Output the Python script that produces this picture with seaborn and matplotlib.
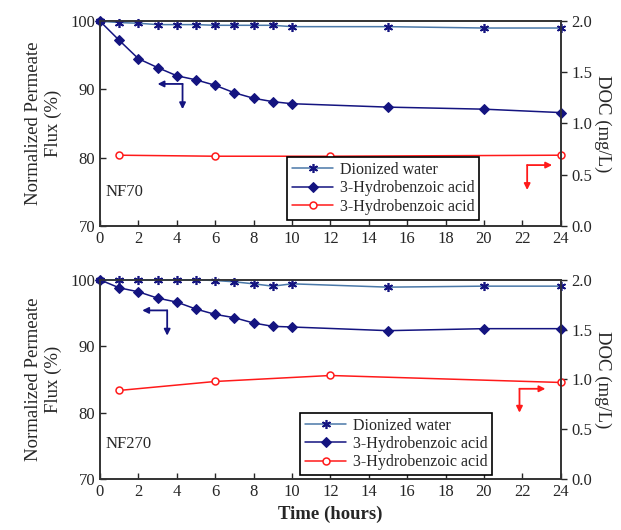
import matplotlib
matplotlib.use("Agg")
import matplotlib.pyplot as plt
import seaborn as sns

# NF70 panel
t_flux = [0, 1, 2, 3, 4, 5, 6, 7, 8, 9, 10, 15, 20, 24]
nf70_water = [100, 99.8, 99.7, 99.5, 99.5, 99.5, 99.4, 99.4, 99.4, 99.4, 99.2, 99.2, 99.0, 99.0]
nf70_hba = [100, 97.2, 94.5, 93.2, 92.0, 91.4, 90.6, 89.5, 88.7, 88.2, 87.9, 87.4, 87.1, 86.6]
t_doc = [1, 6, 12, 24]
nf70_doc = [0.69, 0.68, 0.68, 0.69]

# NF270 panel
nf270_water = [100, 100, 100, 100, 100, 100, 99.9, 99.7, 99.4, 99.05, 99.4, 98.9, 99.05, 99.05]
nf270_hba = [100, 98.8, 98.2, 97.25, 96.65, 95.6, 94.8, 94.3, 93.5, 93.0, 92.9, 92.35, 92.65, 92.65]
nf270_doc = [0.89, 0.98, 1.04, 0.97]

labels = ["Dionized water", "3-Hydrobenzoic acid", "3-Hydrobenzoic acid"]

sns.set_style("ticks")
plt.rcParams["font.family"] = ["Liberation Serif", "DejaVu Serif"]

WATER_LINE = "#4a78a8"
NAVY = "#141480"
RED = "#ff1a1a"

fig = plt.figure(figsize=(6.21, 5.30), dpi=100)
ax_top = fig.add_axes([0.161, 0.574, 0.742, 0.386])
ax_bot = fig.add_axes([0.161, 0.096, 0.742, 0.376])


def draw_panel(ax, water, hba, doc, name, name_y, legend_anchor, navy_arrow, red_arrow):
    sns.lineplot(x=t_flux, y=water, ax=ax, color=WATER_LINE, lw=1.1, clip_on=False,
                 marker=(6, 2, 0), markersize=6.5, mec=NAVY, mew=1.2, label=labels[0])
    sns.lineplot(x=t_flux, y=hba, ax=ax, color=NAVY, lw=1.1, clip_on=False,
                 marker="D", markersize=5, mec=NAVY, mfc=NAVY, label=labels[1])
    ax2 = ax.twinx()
    sns.lineplot(x=t_doc, y=doc, ax=ax2, color=RED, lw=1.1, clip_on=False,
                 marker="o", markersize=5, mec=RED, mfc="white", mew=1.1, label=labels[2])

    ax.set_xlim(0, 24)
    ax.set_ylim(70, 100)
    ax2.set_ylim(0, 2.0)
    ax.set_xticks(range(0, 25, 2))
    ax.set_yticks([70, 80, 90, 100])
    ax2.set_yticks([0, 0.5, 1.0, 1.5, 2.0])
    ax2.set_yticklabels(["0.0", "0.5", "1.0", "1.5", "2.0"])
    ax.tick_params(axis="both", direction="in", labelsize=12, length=4, width=1)
    ax2.tick_params(axis="y", direction="out", labelsize=12, length=4, width=1)
    for a in (ax, ax2):
        for s in a.spines.values():
            s.set_visible(True)
            s.set_linewidth(1.2)
            s.set_color("#333333")

    ax.set_ylabel("Normalized Permeate\nFlux (%)", fontsize=13.5, labelpad=6)
    ax2.set_ylabel("DOC (mg/L)", fontsize=13.5, rotation=270, labelpad=14)
    ax.set_xlabel("")

    ax.text(0.3, name_y, name, fontsize=12, va="center", ha="left")

    # arrows pointing to the axis each curve belongs to
    (x0, x1, y0, y1) = navy_arrow
    style = dict(arrowstyle="-|>", lw=1.3, mutation_scale=9, shrinkA=0, shrinkB=0)
    ax.annotate("", xy=(x0, y0), xytext=(x1, y0), arrowprops=dict(color=NAVY, **style))
    ax.annotate("", xy=(x1, y1), xytext=(x1, y0), arrowprops=dict(color=NAVY, **style))
    (x0, x1, y0, y1) = red_arrow
    ax.annotate("", xy=(x1, y0), xytext=(x0, y0), arrowprops=dict(color=RED, **style))
    ax.annotate("", xy=(x0, y1), xytext=(x0, y0), arrowprops=dict(color=RED, **style))

    h1, l1 = ax.get_legend_handles_labels()
    h2, l2 = ax2.get_legend_handles_labels()
    if ax2.get_legend():
        ax2.get_legend().remove()
    leg = ax.legend(h1 + h2, l1 + l2, loc="lower left", bbox_to_anchor=legend_anchor,
                    fontsize=11.5, frameon=True, fancybox=False, edgecolor="black",
                    framealpha=1, handlelength=2.6, borderpad=0.3, labelspacing=0.15,
                    handletextpad=0.4, borderaxespad=0)
    leg.get_frame().set_linewidth(1.2)
    leg.set_zorder(5)
    ax.set_zorder(ax2.get_zorder() + 1)
    ax.patch.set_visible(False)
    return ax2


draw_panel(ax_top, nf70_water, nf70_hba, nf70_doc, "NF70", 74.9,
           (0.406, 0.03), (3.0, 4.3, 90.8, 87.1), (22.25, 23.55, 78.9, 75.25))
draw_panel(ax_bot, nf270_water, nf270_hba, nf270_doc, "NF270", 75.3,
           (0.434, 0.02), (2.2, 3.5, 95.4, 91.6), (21.85, 23.2, 83.6, 80.0))

ax_bot.set_xlabel("Time (hours)", fontsize=13.5, fontweight="bold", labelpad=4)

fig.savefig("out.png", dpi=100)
